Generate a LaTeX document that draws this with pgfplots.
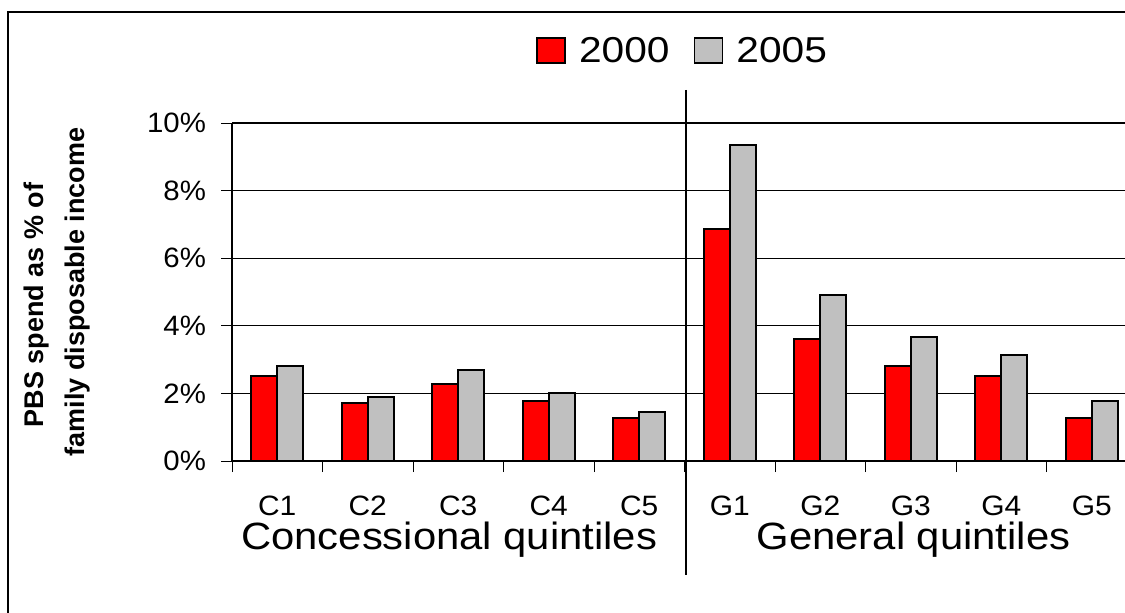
\documentclass[border=0pt]{standalone}
\usepackage{fontspec}
\setmainfont{Liberation Sans}
\usepackage{pgfplots}
\pgfplotsset{compat=1.18}
\definecolor{barred}{RGB}{255,0,0}
\definecolor{bargray}{RGB}{192,192,192}

\begin{document}
\begin{tikzpicture}
\path[use as bounding box] (0,0) rectangle (562.5pt,306pt);
\clip (0,0) rectangle (562.5pt,306pt);
% outer frame of the chart area
\draw[line width=0.6pt] (4pt,-20pt) rectangle (590pt,300pt);

\begin{axis}[
  at={(116pt,75.5pt)}, anchor=south west,
  scale only axis, width=452.5pt, height=169pt,
  clip=false,
  xmin=-0.5, xmax=9.5, ymin=0, ymax=10,
  axis x line*=bottom, axis y line*=left,
  axis line style={-, line width=0.6pt},
  ybar=0pt, bar width=13pt,
  tick align=outside,
  tick style={draw=black, line width=0.5pt},
  major tick length=5.5pt,
  ytick={0,2,...,10},
  ymajorgrids, grid style={line width=0.6pt, black},
  /pgf/number format/assume math mode=true,
  yticklabel={\pgfmathprintnumber{\tick}\%},
  yticklabel style={font=\fontsize{14}{17}\selectfont\addfontfeature{FakeStretch=1.05}, xshift=-4pt},
  xtick={-0.5,0.5,...,9.5},
  x tick label as interval,
  xticklabels={C1,C2,C3,C4,C5,G1,G2,G3,G4,G5},
  xticklabel style={font=\fontsize{14}{17}\selectfont\addfontfeature{FakeStretch=1.07}, anchor=base, yshift=-21.5pt},
  legend columns=2,
  legend style={draw=none, fill=none, at={(0.329,1.213)}, anchor=west,
    font=\fontsize{18}{22}\selectfont\addfontfeature{FakeStretch=1.13},
    /tikz/every even column/.append style={column sep=10pt}},
]
\addplot[fill=barred, draw=black, line width=0.9pt,
  legend image code/.code={\draw[fill=barred, draw=black, line width=0.9pt] (0pt,-6pt) rectangle (14pt,6.5pt); \path[draw=none, fill=none] (14pt,0pt) -- (19pt,0pt);}]
  coordinates {(0,2.51) (1,1.71) (2,2.27) (3,1.77) (4,1.28)
               (5,6.87) (6,3.61) (7,2.81) (8,2.51) (9,1.28)};
\addplot[fill=bargray, draw=black, line width=0.9pt,
  legend image code/.code={\draw[fill=bargray, draw=black, line width=0.9pt] (0pt,-6pt) rectangle (14pt,6.5pt); \path[draw=none, fill=none] (14pt,0pt) -- (19pt,0pt);}]
  coordinates {(0,2.81) (1,1.90) (2,2.69) (3,2.02) (4,1.46)
               (5,9.34) (6,4.91) (7,3.68) (8,3.13) (9,1.78)};
\legend{2000,2005}

% divider between the two groups
\draw[line width=1pt] (axis cs:4.52,10.98) -- (axis cs:4.52,-3.37);

% group captions
\node[anchor=base, font=\fontsize{19}{23}\selectfont\addfontfeature{FakeStretch=1.1}]
  at ([yshift=-44pt]axis cs:1.9,0) {Concessional quintiles};
\node[anchor=base, font=\fontsize{19}{23}\selectfont\addfontfeature{FakeStretch=1.1}]
  at ([yshift=-44pt]axis cs:7.03,0) {General quintiles};
\end{axis}

% y axis title (two lines)
\node[rotate=90, anchor=base, font=\fontsize{13.5}{16}\bfseries\selectfont]
  at (21.5pt,153.5pt) {PBS spend as \% of};
\node[rotate=90, anchor=base, font=\fontsize{13.5}{16}\bfseries\selectfont]
  at (42.4pt,160pt) {family disposable income};
\end{tikzpicture}
\end{document}
